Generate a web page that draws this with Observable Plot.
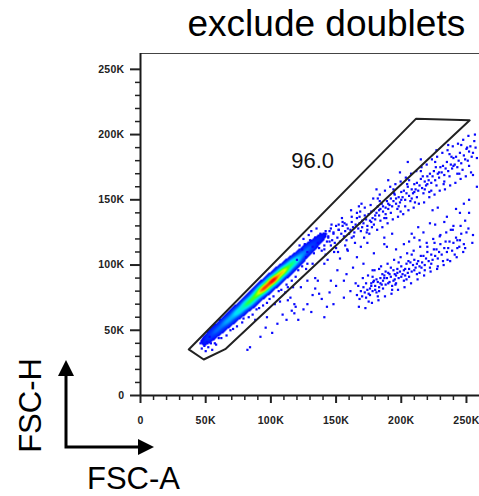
<!DOCTYPE html>
<html><head><meta charset="utf-8">
<script src="https://cdn.jsdelivr.net/npm/d3@7"></script>
<script src="https://cdn.jsdelivr.net/npm/@observablehq/plot@0.6"></script>
<style>
html,body{margin:0;padding:0;background:#fff;overflow:hidden}
.fj g[aria-label="x-axis tick label"] text,.fj g[aria-label="y-axis tick label"] text{letter-spacing:0.3px}
</style></head><body>
<script>
// ---- data (values in K = thousands) ----
const title = "exclude doublets";
const xLabel = "FSC-A";
const yLabel = "FSC-H";
const majorTicks = [0, 50000, 100000, 150000, 200000, 250000];
const majorLabels = ["0", "50K", "100K", "150K", "200K", "250K"];
const minorTicks = [10000,20000,30000,40000,60000,70000,80000,90000,110000,120000,130000,140000,160000,170000,180000,190000,210000,220000,230000,240000];
const xMax = 260000, yMax = 262144;

// gate polygon (FSC-A, FSC-H in K)
const gateX = [37.0, 48.5, 65.0, 252.5, 211.4];
const gateY = [35.3, 27.6, 35.5, 210.9, 212.2];
const gateLabel = "96.0";
const gateLabelX = 132, gateLabelY = 180;

// singlet band: binned centre positions and relative event counts
const bandX = [48,52,56,60,64,68,72,76,80,84,88,92,96,100,104,108,112,116,120,124,128,132,136,140,144,148];
const bandY = [40,44,48,51,55,58,62,65,69,72,76,80,83,87,90,94,97,101,104,108,112,115,119,122,126,129];
const bandCount = [30,38,42,45,49,53,57,63,69,75,82,90,97,100,96,89,80,72,62,53,45,38,32,25,18,12];

// individual low-density events
const bandEdgeDots = [
[46,40],[47,36],[48,43],[49,38],[50,34],[51,41],[52,37],[53,45],[54,40],[55,35],[56,43],[58,39],[60,44],[47,42],
[57,40],[62,44],[66,46],[71,51],[74,53],[78,56],[83,60],[86,62],[91,67],[94,69],[97,71],[102,76],[106,80],[108,81],
[112,85],[116,88],[119,91],[121,96],[124,99],[128,101],[103,70],[111,79],[117,83],[99,74],[89,66],[79,59],[69,50],
[123,83],[115,75],[119,68],[107,72],[118,63],[97,60],[113,83],[128,88],[127,97],[132,101],[134,90],[88,58],[84,37],
[124,112],[126,116],[128,110],[130,119],[132,114],[134,121],[136,117],[138,124],[140,120],[142,126],[144,122],[146,128],
[148,125],[150,130],[125,120],[129,123],[133,109],[137,113],[141,115],[145,118],[152,127],[155,133],[158,131],[162,137],
[120,104],[122,115],[127,106],[131,126],[135,128],[139,111]
];
const upperDoublets = [
[141,112],[143,118],[144,121],[146,115],[147,119],[148,124],[149,117],[150,113],[142,108],[145,126],
[151,121],[152,127],[153,118],[154,124],[155,130],[156,122],[157,126],[158,119],[159,128],[160,124],[152,131],[157,115],
[161,127],[162,133],[163,129],[164,125],[165,131],[166,136],[167,128],[168,132],[169,126],[170,134],[162,121],[166,140],[168,137],[170,129],
[171,132],[172,138],[173,135],[174,130],[175,139],[176,134],[177,141],[178,136],[179,131],[180,138],[172,144],[174,127],[177,133],[179,142],[180,135],
[181,140],[182,145],[183,138],[184,143],[185,147],[186,141],[187,136],[188,144],[189,149],[190,143],[182,151],[184,134],[186,145],[188,139],[190,147],[183,142],
[191,146],[192,151],[193,145],[194,149],[195,154],[196,147],[197,143],[198,152],[199,148],[200,156],[192,140],[194,158],[196,151],[198,145],[200,150],
[201,152],[202,157],[203,150],[204,155],[205,160],[206,153],[207,149],[208,158],[209,155],[210,162],[203,145],[206,165],[208,151],[210,156],
[211,158],[212,163],[213,157],[214,161],[215,166],[216,159],[217,155],[218,164],[219,161],[220,168],[212,152],[215,172],[218,158],[220,162],
[221,165],[222,170],[223,163],[224,168],[225,172],[226,165],[227,161],[228,170],[229,167],[230,175],[223,157],[226,179],[229,171],
[231,171],[232,176],[233,169],[234,174],[235,179],[236,172],[237,168],[238,177],[239,174],[240,182],[233,164],[237,185],[240,176],
[241,177],[242,183],[243,175],[244,180],[245,186],[246,178],[247,173],[248,184],[249,181],[250,189],[243,170],[246,192],
[251,180],[252,187],[253,191],[254,183],[255,186],[257,190],[252,176],[256,195],
[199,171],[205,179],[227,188],[215,181],[190,165],[181,158],[236,192],[255,169],
[143.5,104],[146.5,131],[151.5,110],[154.5,136],[158.5,112],[161.5,142],[164.5,117],[167.5,145],[171.5,121],[169.5,147],
[175.5,124],[178.5,151],[176.5,146],[173.5,125],[181.5,127],[183.5,154],[185.5,129],[187.5,157],[189.5,132],[191.5,160],
[193.5,135],[195.5,162],[197.5,137],[199.5,164],[201.5,139],[203.5,167],[205.5,142],[207.5,170],[209.5,144],[211.5,172],
[213.5,147],[215.5,175],[217.5,148],[219.5,177],[221.5,152],[223.5,181],[225.5,154],[227.5,183],[229.5,157],[231.5,186],
[233.5,158],[235.5,188],[237.5,161],[239.5,191],[241.5,163],[243.5,193],[245.5,166],[247.5,196],[249.5,168],[251.5,199],
[253.5,171],[256.5,200],[258,182],
[177.5,129],[183.5,149],[188.5,136],[194.5,155],[199.5,141],[204.5,162],[210.5,148],[216.5,168],[221.5,156],[226.5,175],
[232.5,162],[238.5,183],[244.5,170],[250.5,190],[163.5,122],[168.5,141],[156.5,132],[148.5,110]
];
const lowerDoublets = [
[166,77],[168,74],[169,80],[170,76],[171,83],[172,79],[173,75],[174,81],[175,78],[167,84],[173,86],[175,72],
[176,82],[177,86],[178,80],[179,88],[180,84],[181,79],[182,87],[183,83],[184,90],[185,85],[176,77],[178,91],[180,81],[182,76],[184,86],[177,84],[181,89],[183,80],
[186,88],[187,92],[188,85],[189,90],[190,94],[191,87],[192,91],[193,84],[194,96],[195,89],[186,82],[188,95],[190,86],[192,98],[194,88],[187,90],[191,93],[193,81],[195,93],
[196,92],[197,97],[198,90],[199,95],[200,99],[201,93],[202,88],[203,97],[204,101],[205,94],[196,86],[198,102],[200,91],[202,96],[204,89],[197,94],[203,92],
[206,97],[207,102],[208,95],[209,100],[210,104],[211,98],[212,93],[213,103],[214,99],[215,107],[206,91],[208,108],[210,96],[212,101],[214,94],
[216,102],[217,107],[218,100],[219,105],[220,110],[221,103],[222,98],[223,108],[224,104],[225,112],[218,96],[220,114],[223,101],
[226,107],[227,112],[228,105],[229,110],[230,116],[231,108],[232,103],[233,113],[234,118],[235,110],[228,99],
[236,113],[237,118],[239,111],[240,117],[242,121],[243,113],[245,119],[246,124],[248,116],[241,108],[250,125],[255,123],
[167.5,68],[170.5,90],[172.5,67],[174.5,92],[177.5,71],[179.5,96],[182.5,73],[184.5,99],[187.5,76],[189.5,101],
[192.5,78],[194.5,104],[197.5,81],[199.5,106],[202.5,83],[204.5,109],[207.5,86],[209.5,111],[212.5,89],[214.5,114],
[217.5,92],[219.5,117],[222.5,95],[224.5,120],[227.5,97],[229.5,122],[232.5,100],[234.5,125],[237.5,103],[239.5,127],
[242.5,106],[245.5,130],[247.5,110],[251.5,128],[254.5,117],[178.5,87],[185.5,93],[195.5,85],[205.5,103],[215.5,98],
[225.5,117],[235.5,104],[244.5,114]
];
const scatterDots = [
[82,35],[92,45],[105,55],[121,58],[116,65],[118,70],[139,74],[137,78],[143,68],[156,75],[161,80],[156,88],[146,88],[151,96],
[136,88],[141,101],[153,105],[159,111],[171,101],[179,109],[183,97],[169,114],[187,121],[189,114],[202,116],[210,121],[217,125],
[222,132],[235,137],[242,143],[248,147],[249,134],[238,127],[230,123],[132,77],[128,70],[113,73],[141,60],[148,70],[165,86],
[224,142],[213,129],[208,124],[193,124],[187,116],[243,119],[249,113],
[96,52],[101,48],[109,62],[112,58],[125,66],[131,64],[134,82],[145,79],[150,84],[158,93],[163,98],[166,106],[174,117],
[178,96],[196,112],[206,118],[214,119],[226,131],[233,133],[245,140],[252,150],[258,160],[252,140],[228,144],[240,130]
];

// ---- density of the singlet band (kernel estimate from binned counts) ----
const sigma = 3.6;
function field(xk, yk) {
  let s = 0;
  for (let i = 0; i < bandX.length; i++) {
    const dx = xk - bandX[i], dy = yk - bandY[i];
    const d2 = dx * dx + dy * dy;
    if (d2 < 400) s += bandCount[i] * Math.exp(-d2 / (2 * sigma * sigma));
  }
  return s;
}
let fmax = 0;
for (let i = 0; i < bandX.length; i++) fmax = Math.max(fmax, field(bandX[i], bandY[i]));

const gate = gateX.map((x, i) => ({x: x * 1000, y: gateY[i] * 1000}));
const dots = [...bandEdgeDots, ...upperDoublets, ...lowerDoublets, ...scatterDots].map(([x, y]) => ({x: x * 1000, y: y * 1000}));
const fmtMajor = d => majorLabels[majorTicks.indexOf(d)];

const plot = Plot.plot({
  width: 479, height: 496,
  marginLeft: 140, marginRight: 0, marginTop: 53, marginBottom: 101,
  className: "fj",
  style: {fontFamily: "'Liberation Sans', Arial, sans-serif", background: "#fff", overflow: "visible"},
  x: {domain: [0, xMax]},
  y: {domain: [0, yMax]},
  color: {type: "linear", clamp: true,
    domain: [0.2, 0.4, 0.5, 0.6, 0.7, 0.78, 0.86, 0.93, 1.0],
    range: ["#0000ff", "#0040ff", "#0090ff", "#00e0ff", "#00ffa0", "#50ff00", "#e0ff00", "#ff8000", "#ff0000"]},
  marks: [
    Plot.raster({
      x1: 0, x2: xMax, y1: 0, y2: yMax, pixelSize: 1,
      fill: (x, y) => { const r = field(x / 1000, y / 1000) / fmax; return r < 0.2 ? NaN : r; }
    }),
    Plot.dot(dots, {x: "x", y: "y", symbol: "square", r: 1.25, fill: "#0808ff"}),
    Plot.line(gate, {x: "x", y: "y", curve: "linear-closed", stroke: "#222", strokeWidth: 2}),
    Plot.text([gateLabel], {x: gateLabelX * 1000, y: gateLabelY * 1000, text: d => d, fontSize: 22, fill: "#111", textAnchor: "middle", lineAnchor: "middle"}),
    Plot.ruleY([yMax], {stroke: "#444", strokeWidth: 1}),
    Plot.ruleX([0], {stroke: "#1a1a1a", strokeWidth: 2}),
    Plot.ruleY([0], {stroke: "#1a1a1a", strokeWidth: 2}),
    Plot.axisY({ticks: majorTicks, anchor: "left", tickSize: 10, tickPadding: 6, tickFormat: fmtMajor, fontSize: 10.5, fontWeight: "bold", color: "#222", strokeWidth: 2, label: null}),
    Plot.axisY({ticks: minorTicks, anchor: "left", tickSize: 5, tickFormat: () => "", color: "#222", strokeWidth: 1.5, label: null}),
    Plot.axisX({ticks: majorTicks, anchor: "bottom", tickSize: 8, tickPadding: 13, tickFormat: fmtMajor, fontSize: 10.5, fontWeight: "bold", color: "#222", strokeWidth: 2, label: null}),
    Plot.axisX({ticks: minorTicks, anchor: "bottom", tickSize: 5, tickFormat: () => "", color: "#222", strokeWidth: 1.5, label: null}),
    Plot.text([title], {frameAnchor: "top-left", dx: 47, dy: -18, text: d => d, textAnchor: "start", lineAnchor: "bottom", fontSize: 37, fill: "#000"}),
    Plot.text([xLabel], {frameAnchor: "bottom-left", dx: -7, dy: 93, text: d => d, textAnchor: "middle", lineAnchor: "bottom", fontSize: 31, fill: "#000"}),
    Plot.text([yLabel], {frameAnchor: "bottom-left", dx: -100, dy: 10, text: d => d, rotate: -90, textAnchor: "middle", lineAnchor: "bottom", fontSize: 31, fill: "#000"})
  ]
});
document.body.appendChild(plot);

// axis direction arrows (decoration)
const svg = d3.select(plot.tagName.toLowerCase() === "svg" ? plot : plot.querySelector("svg"));
const g = svg.append("g");
g.append("path").attr("d", "M66,374V447H139").attr("fill", "none").attr("stroke", "#000").attr("stroke-width", 3);
g.append("path").attr("d", "M66,360L58,376L74,376Z").attr("fill", "#000");
g.append("path").attr("d", "M154,447L138,439L138,455Z").attr("fill", "#000");
</script></body></html>
